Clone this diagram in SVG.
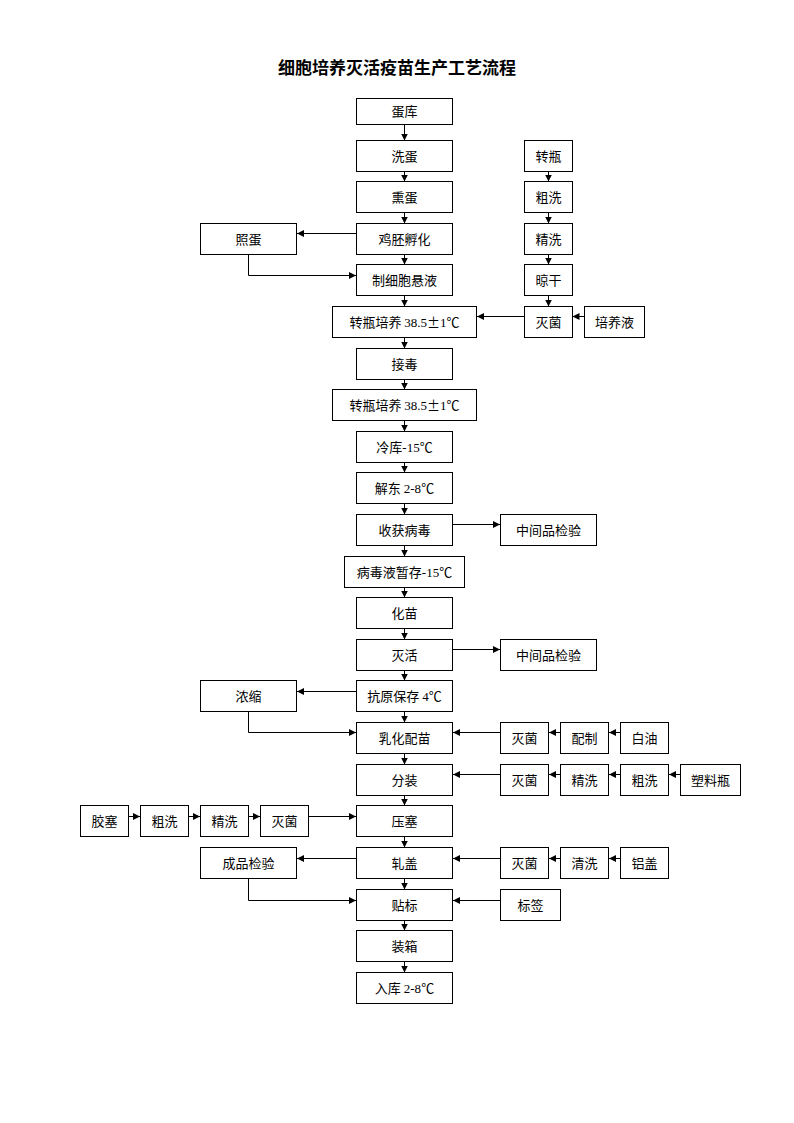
<svg xmlns="http://www.w3.org/2000/svg" width="794" height="1123" viewBox="0 0 794 1123">
<style>
.b{fill:#fff;stroke:#000;stroke-width:1}
.t{font-family:"Noto Sans CJK SC","Liberation Sans",sans-serif;font-size:13px;fill:#000;text-anchor:middle}
.n{font-family:"Liberation Serif",serif}
.c line,.c polyline{stroke:#000;stroke-width:1;fill:none;marker-end:url(#a)}
</style>
<defs>
<marker id="a" viewBox="0 0 8 8" markerWidth="7" markerHeight="7" refX="8" refY="4" orient="auto" markerUnits="userSpaceOnUse"><path d="M0,0L8,4L0,8z" fill="#000"/></marker>
</defs>
<rect width="794" height="1123" fill="#fff"/>
<text x="397" y="74" font-family="Noto Sans CJK SC,sans-serif" font-size="17" font-weight="bold" text-anchor="middle">细胞培养灭活疫苗生产工艺流程</text>

<g class="c">
<line x1="404.5" y1="124.5" x2="404.5" y2="140.5"/>
<line x1="404.5" y1="171.5" x2="404.5" y2="181.5"/>
<line x1="404.5" y1="212.5" x2="404.5" y2="223.5"/>
<line x1="404.5" y1="254.5" x2="404.5" y2="264.5"/>
<line x1="404.5" y1="295.5" x2="404.5" y2="306.5"/>
<line x1="404.5" y1="337.5" x2="404.5" y2="348.5"/>
<line x1="404.5" y1="379.5" x2="404.5" y2="389.5"/>
<line x1="404.5" y1="420.5" x2="404.5" y2="431.5"/>
<line x1="404.5" y1="462.5" x2="404.5" y2="472.5"/>
<line x1="404.5" y1="503.5" x2="404.5" y2="514.5"/>
<line x1="404.5" y1="545.5" x2="404.5" y2="556.5"/>
<line x1="404.5" y1="587.5" x2="404.5" y2="597.5"/>
<line x1="404.5" y1="628.5" x2="404.5" y2="639.5"/>
<line x1="404.5" y1="670.5" x2="404.5" y2="680.5"/>
<line x1="404.5" y1="711.5" x2="404.5" y2="722.5"/>
<line x1="404.5" y1="753.5" x2="404.5" y2="764.5"/>
<line x1="404.5" y1="795.5" x2="404.5" y2="805.5"/>
<line x1="404.5" y1="836.5" x2="404.5" y2="847.5"/>
<line x1="404.5" y1="878.5" x2="404.5" y2="889.5"/>
<line x1="404.5" y1="920.5" x2="404.5" y2="930.5"/>
<line x1="404.5" y1="961.5" x2="404.5" y2="972.5"/>
<line x1="548.5" y1="171.5" x2="548.5" y2="181.5"/>
<line x1="548.5" y1="212.5" x2="548.5" y2="223.5"/>
<line x1="548.5" y1="254.5" x2="548.5" y2="264.5"/>
<line x1="548.5" y1="295.5" x2="548.5" y2="306.5"/>
<line x1="356.5" y1="233.5" x2="297" y2="233.5"/>
<polyline points="248.5,254.5 248.5,275.5 356,275.5"/>
<line x1="524.5" y1="316.5" x2="477" y2="316.5"/>
<line x1="584.5" y1="316.5" x2="572.5" y2="316.5"/>
<line x1="452.5" y1="524.5" x2="500" y2="524.5"/>
<line x1="452.5" y1="649.5" x2="500" y2="649.5"/>
<line x1="356.5" y1="691.5" x2="297" y2="691.5"/>
<polyline points="248.5,711.5 248.5,732.5 356,732.5"/>
<line x1="500.5" y1="732.5" x2="453" y2="732.5"/>
<line x1="560.5" y1="732.5" x2="549" y2="732.5"/>
<line x1="620.5" y1="732.5" x2="609" y2="732.5"/>
<line x1="500.5" y1="774.5" x2="453" y2="774.5"/>
<line x1="560.5" y1="774.5" x2="549" y2="774.5"/>
<line x1="620.5" y1="774.5" x2="609" y2="774.5"/>
<line x1="680.5" y1="774.5" x2="669" y2="774.5"/>
<line x1="128.5" y1="816.5" x2="140" y2="816.5"/>
<line x1="188.5" y1="816.5" x2="200" y2="816.5"/>
<line x1="248.5" y1="816.5" x2="260" y2="816.5"/>
<line x1="308.5" y1="816.5" x2="356" y2="816.5"/>
<line x1="356.5" y1="858.5" x2="297" y2="858.5"/>
<line x1="500.5" y1="858.5" x2="453" y2="858.5"/>
<line x1="560.5" y1="858.5" x2="549" y2="858.5"/>
<line x1="620.5" y1="858.5" x2="609" y2="858.5"/>
<polyline points="248.5,878.5 248.5,900.5 356,900.5"/>
<line x1="500.5" y1="900.5" x2="453" y2="900.5"/>
</g>

<g id="n1"><rect class="b" x="356.5" y="98.5" width="96" height="26"/><text class="t" x="404.5" y="116">蛋库</text></g>
<g id="n2"><rect class="b" x="356.5" y="140.5" width="96" height="31"/><text class="t" x="404.5" y="160.5">洗蛋</text></g>
<g id="n3"><rect class="b" x="356.5" y="181.5" width="96" height="31"/><text class="t" x="404.5" y="201.5">熏蛋</text></g>
<g id="n4"><rect class="b" x="356.5" y="223.5" width="96" height="31"/><text class="t" x="404.5" y="243.5">鸡胚孵化</text></g>
<g id="n5"><rect class="b" x="356.5" y="264.5" width="96" height="31"/><text class="t" x="404.5" y="284.5">制细胞悬液</text></g>
<g id="n6"><rect class="b" x="332.5" y="306.5" width="144" height="31"/><text class="t" x="404.5" y="326.5">转瓶培养 <tspan class="n">38.5</tspan>±<tspan class="n">1</tspan>℃</text></g>
<g id="n7"><rect class="b" x="356.5" y="348.5" width="96" height="31"/><text class="t" x="404.5" y="368.5">接毒</text></g>
<g id="n8"><rect class="b" x="332.5" y="389.5" width="144" height="31"/><text class="t" x="404.5" y="409.5">转瓶培养 <tspan class="n">38.5</tspan>±<tspan class="n">1</tspan>℃</text></g>
<g id="n9"><rect class="b" x="356.5" y="431.5" width="96" height="31"/><text class="t" x="404.5" y="451.5">冷库<tspan class="n">-15</tspan>℃</text></g>
<g id="n10"><rect class="b" x="356.5" y="472.5" width="96" height="31"/><text class="t" x="404.5" y="492.5">解东 <tspan class="n">2-8</tspan>℃</text></g>
<g id="n11"><rect class="b" x="356.5" y="514.5" width="96" height="31"/><text class="t" x="404.5" y="534.5">收获病毒</text></g>
<g id="n12"><rect class="b" x="500.5" y="514.5" width="96" height="31"/><text class="t" x="548.5" y="534.5">中间品检验</text></g>
<g id="n13"><rect class="b" x="344.5" y="556.5" width="120" height="31"/><text class="t" x="404.5" y="576.5">病毒液暂存<tspan class="n">-15</tspan>℃</text></g>
<g id="n14"><rect class="b" x="356.5" y="597.5" width="96" height="31"/><text class="t" x="404.5" y="617.5">化苗</text></g>
<g id="n15"><rect class="b" x="356.5" y="639.5" width="96" height="31"/><text class="t" x="404.5" y="659.5">灭活</text></g>
<g id="n16"><rect class="b" x="500.5" y="639.5" width="96" height="31"/><text class="t" x="548.5" y="659.5">中间品检验</text></g>
<g id="n17"><rect class="b" x="356.5" y="680.5" width="96" height="31"/><text class="t" x="404.5" y="700.5">抗原保存 <tspan class="n">4</tspan>℃</text></g>
<g id="n18"><rect class="b" x="200.5" y="680.5" width="96" height="31"/><text class="t" x="248.5" y="700.5">浓缩</text></g>
<g id="n19"><rect class="b" x="356.5" y="722.5" width="96" height="31"/><text class="t" x="404.5" y="742.5">乳化配苗</text></g>
<g id="n20"><rect class="b" x="500.5" y="722.5" width="48" height="31"/><text class="t" x="524.5" y="742.5">灭菌</text></g>
<g id="n21"><rect class="b" x="560.5" y="722.5" width="48" height="31"/><text class="t" x="584.5" y="742.5">配制</text></g>
<g id="n22"><rect class="b" x="620.5" y="722.5" width="48" height="31"/><text class="t" x="644.5" y="742.5">白油</text></g>
<g id="n23"><rect class="b" x="356.5" y="764.5" width="96" height="31"/><text class="t" x="404.5" y="784.5">分装</text></g>
<g id="n24"><rect class="b" x="500.5" y="764.5" width="48" height="31"/><text class="t" x="524.5" y="784.5">灭菌</text></g>
<g id="n25"><rect class="b" x="560.5" y="764.5" width="48" height="31"/><text class="t" x="584.5" y="784.5">精洗</text></g>
<g id="n26"><rect class="b" x="620.5" y="764.5" width="48" height="31"/><text class="t" x="644.5" y="784.5">粗洗</text></g>
<g id="n27"><rect class="b" x="680.5" y="764.5" width="60" height="31"/><text class="t" x="710.5" y="784.5">塑料瓶</text></g>
<g id="n28"><rect class="b" x="356.5" y="805.5" width="96" height="31"/><text class="t" x="404.5" y="825.5">压塞</text></g>
<g id="n29"><rect class="b" x="80.5" y="805.5" width="48" height="31"/><text class="t" x="104.5" y="825.5">胶塞</text></g>
<g id="n30"><rect class="b" x="140.5" y="805.5" width="48" height="31"/><text class="t" x="164.5" y="825.5">粗洗</text></g>
<g id="n31"><rect class="b" x="200.5" y="805.5" width="48" height="31"/><text class="t" x="224.5" y="825.5">精洗</text></g>
<g id="n32"><rect class="b" x="260.5" y="805.5" width="48" height="31"/><text class="t" x="284.5" y="825.5">灭菌</text></g>
<g id="n33"><rect class="b" x="356.5" y="847.5" width="96" height="31"/><text class="t" x="404.5" y="867.5">轧盖</text></g>
<g id="n34"><rect class="b" x="200.5" y="847.5" width="96" height="31"/><text class="t" x="248.5" y="867.5">成品检验</text></g>
<g id="n35"><rect class="b" x="500.5" y="847.5" width="48" height="31"/><text class="t" x="524.5" y="867.5">灭菌</text></g>
<g id="n36"><rect class="b" x="560.5" y="847.5" width="48" height="31"/><text class="t" x="584.5" y="867.5">清洗</text></g>
<g id="n37"><rect class="b" x="620.5" y="847.5" width="48" height="31"/><text class="t" x="644.5" y="867.5">铝盖</text></g>
<g id="n38"><rect class="b" x="356.5" y="889.5" width="96" height="31"/><text class="t" x="404.5" y="909.5">贴标</text></g>
<g id="n39"><rect class="b" x="500.5" y="889.5" width="60" height="31"/><text class="t" x="530.5" y="909.5">标签</text></g>
<g id="n40"><rect class="b" x="356.5" y="930.5" width="96" height="31"/><text class="t" x="404.5" y="950.5">装箱</text></g>
<g id="n41"><rect class="b" x="356.5" y="972.5" width="96" height="31"/><text class="t" x="404.5" y="992.5">入库 <tspan class="n">2-8</tspan>℃</text></g>
<g id="n42"><rect class="b" x="200.5" y="223.5" width="96" height="31"/><text class="t" x="248.5" y="243.5">照蛋</text></g>
<g id="n43"><rect class="b" x="524.5" y="140.5" width="48" height="31"/><text class="t" x="548.5" y="160.5">转瓶</text></g>
<g id="n44"><rect class="b" x="524.5" y="181.5" width="48" height="31"/><text class="t" x="548.5" y="201.5">粗洗</text></g>
<g id="n45"><rect class="b" x="524.5" y="223.5" width="48" height="31"/><text class="t" x="548.5" y="243.5">精洗</text></g>
<g id="n46"><rect class="b" x="524.5" y="264.5" width="48" height="31"/><text class="t" x="548.5" y="284.5">晾干</text></g>
<g id="n47"><rect class="b" x="524.5" y="306.5" width="48" height="31"/><text class="t" x="548.5" y="326.5">灭菌</text></g>
<g id="n48"><rect class="b" x="584.5" y="306.5" width="60" height="31"/><text class="t" x="614.5" y="326.5">培养液</text></g>
</svg>
